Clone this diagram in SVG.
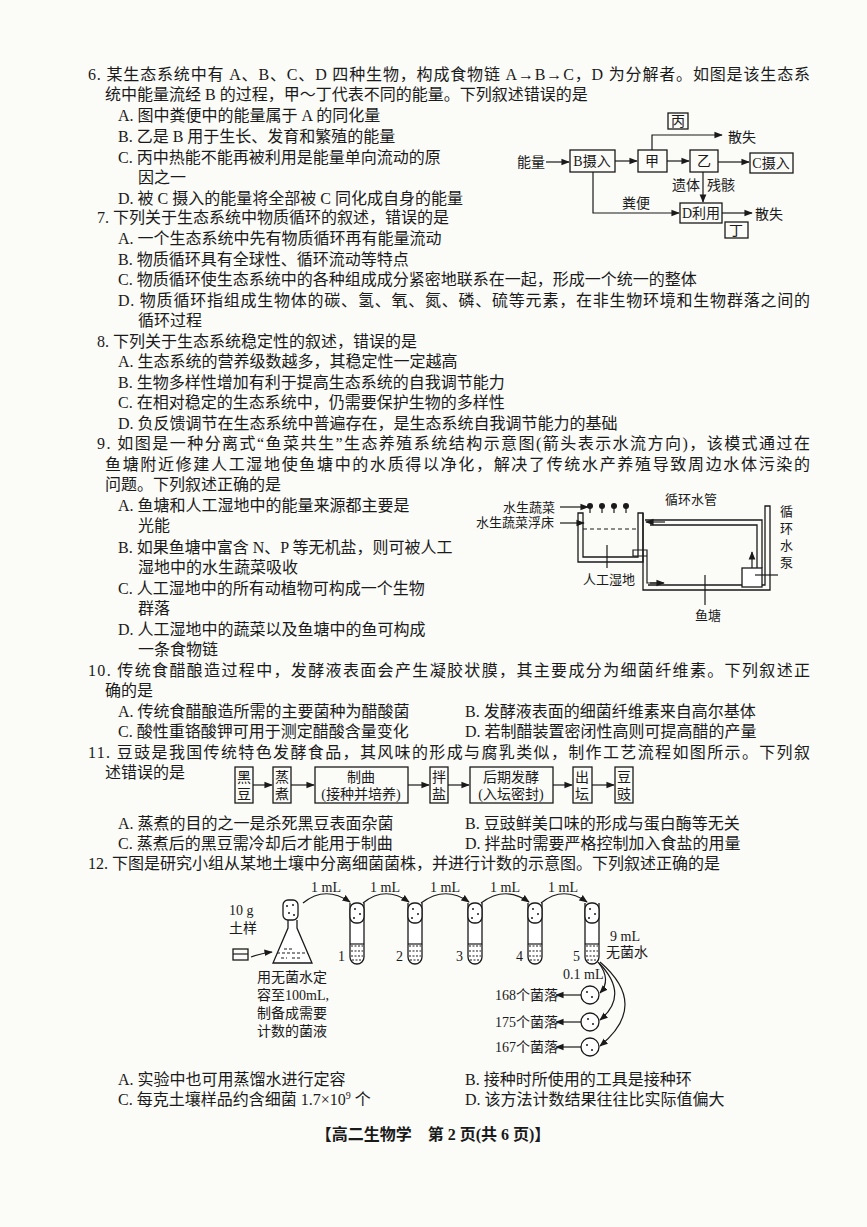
<svg xmlns="http://www.w3.org/2000/svg" width="867" height="1227" viewBox="0 0 867 1227">
<defs>
<style>
text{font-family:"Liberation Serif","Noto Sans CJK SC",serif;font-size:16px;fill:#1a1a1a}
.s{font-size:13px}
.m{font-size:14px}
.b{fill:none;stroke:#1a1a1a;stroke-width:1.3}
.l{fill:none;stroke:#1a1a1a;stroke-width:1.2}
.w{fill:#fff;stroke:#1a1a1a;stroke-width:1.3}
</style>
<marker id="a" viewBox="0 0 10 10" refX="9" refY="5" markerWidth="7" markerHeight="7" orient="auto"><path d="M0,1 L10,5 L0,9 Z" fill="#1a1a1a"/></marker>
</defs>
<rect width="867" height="1227" fill="#fbfbf8"/>
<g id="text">
<text x="88" y="80" textLength="722" lengthAdjust="spacing">6. 某生态系统中有 A、B、C、D 四种生物，构成食物链 A→B→C，D 为分解者。如图是该生态系</text>
<text x="105" y="100">统中能量流经 B 的过程，甲～丁代表不同的能量。下列叙述错误的是</text>
<text x="118" y="121">A. 图中粪便中的能量属于 A 的同化量</text>
<text x="118" y="142">B. 乙是 B 用于生长、发育和繁殖的能量</text>
<text x="118" y="163">C. 丙中热能不能再被利用是能量单向流动的原</text>
<text x="138" y="183">因之一</text>
<text x="118" y="204">D. 被 C 摄入的能量将全部被 C 同化成自身的能量</text>
<text x="97" y="223">7. 下列关于生态系统中物质循环的叙述，错误的是</text>
<text x="118" y="244">A. 一个生态系统中先有物质循环再有能量流动</text>
<text x="118" y="265">B. 物质循环具有全球性、循环流动等特点</text>
<text x="118" y="285">C. 物质循环使生态系统中的各种组成成分紧密地联系在一起，形成一个统一的整体</text>
<text x="118" y="306" textLength="692" lengthAdjust="spacing">D. 物质循环指组成生物体的碳、氢、氧、氮、磷、硫等元素，在非生物环境和生物群落之间的</text>
<text x="138" y="326">循环过程</text>
<text x="97" y="347">8. 下列关于生态系统稳定性的叙述，错误的是</text>
<text x="118" y="367">A. 生态系统的营养级数越多，其稳定性一定越高</text>
<text x="118" y="388">B. 生物多样性增加有利于提高生态系统的自我调节能力</text>
<text x="118" y="408">C. 在相对稳定的生态系统中，仍需要保护生物的多样性</text>
<text x="118" y="429">D. 负反馈调节在生态系统中普遍存在，是生态系统自我调节能力的基础</text>
<text x="97" y="449" textLength="713" lengthAdjust="spacing">9. 如图是一种分离式“鱼菜共生”生态养殖系统结构示意图(箭头表示水流方向)，该模式通过在</text>
<text x="105" y="470" textLength="705" lengthAdjust="spacing">鱼塘附近修建人工湿地使鱼塘中的水质得以净化，解决了传统水产养殖导致周边水体污染的</text>
<text x="105" y="490">问题。下列叙述正确的是</text>
<text x="118" y="511">A. 鱼塘和人工湿地中的能量来源都主要是</text>
<text x="138" y="531">光能</text>
<text x="118" y="553">B. 如果鱼塘中富含 N、P 等无机盐，则可被人工</text>
<text x="138" y="573">湿地中的水生蔬菜吸收</text>
<text x="118" y="594">C. 人工湿地中的所有动植物可构成一个生物</text>
<text x="138" y="614">群落</text>
<text x="118" y="635">D. 人工湿地中的蔬菜以及鱼塘中的鱼可构成</text>
<text x="138" y="655">一条食物链</text>
<text x="88" y="676" textLength="722" lengthAdjust="spacing">10. 传统食醋酿造过程中，发酵液表面会产生凝胶状膜，其主要成分为细菌纤维素。下列叙述正</text>
<text x="105" y="696">确的是</text>
<text x="118" y="717">A. 传统食醋酿造所需的主要菌种为醋酸菌</text>
<text x="465" y="717">B. 发酵液表面的细菌纤维素来自高尔基体</text>
<text x="118" y="737">C. 酸性重铬酸钾可用于测定醋酸含量变化</text>
<text x="465" y="737">D. 若制醋装置密闭性高则可提高醋的产量</text>
<text x="88" y="758" textLength="722" lengthAdjust="spacing">11. 豆豉是我国传统特色发酵食品，其风味的形成与腐乳类似，制作工艺流程如图所示。下列叙</text>
<text x="105" y="778">述错误的是</text>
<text x="118" y="829">A. 蒸煮的目的之一是杀死黑豆表面杂菌</text>
<text x="465" y="829">B. 豆豉鲜美口味的形成与蛋白酶等无关</text>
<text x="118" y="849">C. 蒸煮后的黑豆需冷却后才能用于制曲</text>
<text x="465" y="849">D. 拌盐时需要严格控制加入食盐的用量</text>
<text x="88" y="869">12. 下图是研究小组从某地土壤中分离细菌菌株，并进行计数的示意图。下列叙述正确的是</text>
<text x="118" y="1085">A. 实验中也可用蒸馏水进行定容</text>
<text x="465" y="1085">B. 接种时所使用的工具是接种环</text>
<text x="118" y="1105">C. 每克土壤样品约含细菌 1.7×10<tspan dy="-6" font-size="10">9</tspan><tspan dy="6"> 个</tspan></text>
<text x="465" y="1105">D. 该方法计数结果往往比实际值偏大</text>
<text x="433" y="1140" text-anchor="middle" font-weight="bold">【高二生物学　第 2 页(共 6 页)】</text>
</g>
<g id="q6-diagram">
<text x="517" y="167" class="m">能量</text>
<rect x="570" y="150" width="45" height="22" class="b"/><text x="592" y="166" class="m" text-anchor="middle">B摄入</text>
<rect x="638" y="150" width="29" height="22" class="b"/><text x="652" y="166" class="m" text-anchor="middle">甲</text>
<rect x="690" y="150" width="28" height="22" class="b"/><text x="704" y="166" class="m" text-anchor="middle">乙</text>
<rect x="750" y="153" width="43" height="20" class="b"/><text x="771" y="168" class="m" text-anchor="middle">C摄入</text>
<rect x="668" y="113" width="20" height="16" class="b"/><text x="678" y="126" class="m" text-anchor="middle">丙</text>
<text x="728" y="142" class="m">散失</text>
<rect x="680" y="203" width="42" height="20" class="b"/><text x="701" y="218" class="m" text-anchor="middle">D利用</text>
<rect x="725" y="222" width="23" height="16" class="b"/><text x="736" y="235" class="m" text-anchor="middle">丁</text>
<text x="755" y="219" class="m">散失</text>
<text x="672" y="190" class="m">遗体</text><text x="707" y="190" class="m">残骸</text>
<text x="622" y="208" class="m">粪便</text>
</g>
<g id="q9-diagram">
<text x="503" y="512" class="s">水生蔬菜</text>
<text x="476" y="527" class="s">水生蔬菜浮床</text>
<path d="M578,513 V562 H643 V513 H638 V557 H583 V513 Z" class="b"/>
<line x1="583" y1="529" x2="638" y2="529" stroke="#1a1a1a" stroke-width="1.2" stroke-dasharray="4,3"/>
<g class="l">
<path d="M590,513 v-6 M602,513 v-6 M614,513 v-6 M626,513 v-6"/>
</g>
<g fill="#1a1a1a">
<circle cx="590" cy="506" r="3"/><circle cx="602" cy="506" r="3"/><circle cx="614" cy="506" r="3"/><circle cx="626" cy="506" r="3"/>
</g>
<path d="M643,513 V590 H770 V506 H765 V585 H648" class="b"/>
<path d="M762,568 V520 H645 M757,568 V525 H650" class="b"/>
<rect x="742" y="568" width="20" height="19" class="w"/>
<path d="M633,550 h14 v6 h-14 z M647,553 V583 H662" class="l"/>
<text x="665" y="504" class="s">循环水管</text>
<text x="583" y="584" class="s">人工湿地</text>
<text x="695" y="620" class="s">鱼塘</text>
<text x="780" y="516" class="s">循</text><text x="780" y="533" class="s">环</text><text x="780" y="550" class="s">水</text><text x="780" y="567" class="s">泵</text>
</g>
<g id="q11-flow">
<rect x="235" y="767" width="18" height="36" class="b"/><text x="244" y="782" class="m" text-anchor="middle">黑</text><text x="244" y="799" class="m" text-anchor="middle">豆</text>
<rect x="273" y="767" width="18" height="36" class="b"/><text x="282" y="782" class="m" text-anchor="middle">蒸</text><text x="282" y="799" class="m" text-anchor="middle">煮</text>
<rect x="315" y="767" width="93" height="36" class="b"/><text x="361" y="782" class="m" text-anchor="middle">制曲</text><text x="361" y="799" class="m" text-anchor="middle">(接种并培养)</text>
<rect x="430" y="767" width="18" height="36" class="b"/><text x="439" y="782" class="m" text-anchor="middle">拌</text><text x="439" y="799" class="m" text-anchor="middle">盐</text>
<rect x="470" y="767" width="83" height="36" class="b"/><text x="511" y="782" class="m" text-anchor="middle">后期发酵</text><text x="511" y="799" class="m" text-anchor="middle">(入坛密封)</text>
<rect x="573" y="767" width="19" height="36" class="b"/><text x="582" y="782" class="m" text-anchor="middle">出</text><text x="582" y="799" class="m" text-anchor="middle">坛</text>
<rect x="615" y="767" width="18" height="36" class="b"/><text x="624" y="782" class="m" text-anchor="middle">豆</text><text x="624" y="799" class="m" text-anchor="middle">豉</text>
</g>
<g id="q12-diagram">
<text x="229" y="915" class="m">10 g</text><text x="229" y="933" class="m">土样</text>
<rect x="233" y="949" width="15" height="11" class="b"/><line x1="233" y1="954" x2="248" y2="954" class="l"/>
<path d="M288,920 V928 L273,963 H312 L297,928 V920" class="w"/>
<path d="M277,953 H308 M281,958 h6 M292,958 h8 M284,949 h10" class="l" stroke-dasharray="3,2"/>
<rect x="283" y="900" width="15" height="20" rx="5" class="w"/>
<g fill="#1a1a1a"><circle cx="287" cy="906" r="1"/><circle cx="293" cy="905" r="1"/><circle cx="289" cy="913" r="1"/><circle cx="294" cy="915" r="1"/></g>
<text x="257" y="982" class="m">用无菌水定</text>
<text x="257" y="1000" class="m">容至100mL,</text>
<text x="257" y="1018" class="m">制备成需要</text>
<text x="257" y="1036" class="m">计数的菌液</text>
<g id="tubes">
<g transform="translate(357,0)"><path d="M-7,903 V957 a7,7 0 0 0 14,0 V903" class="w"/><rect x="-7" y="903" width="14" height="20" rx="6" class="w"/><path d="M-6,946 h12 M-6,951 h12 M-6,956 h12 M-5,960 h10" class="l" stroke-dasharray="2,1.5"/><line x1="-7" y1="944" x2="7" y2="944" class="l"/><g fill="#1a1a1a"><circle cx="-2" cy="909" r="1"/><circle cx="3" cy="914" r="1"/><circle cx="-3" cy="918" r="1"/></g></g>
<g transform="translate(415,0)"><path d="M-7,903 V957 a7,7 0 0 0 14,0 V903" class="w"/><rect x="-7" y="903" width="14" height="20" rx="6" class="w"/><path d="M-6,946 h12 M-6,951 h12 M-6,956 h12 M-5,960 h10" class="l" stroke-dasharray="2,1.5"/><line x1="-7" y1="944" x2="7" y2="944" class="l"/><g fill="#1a1a1a"><circle cx="-2" cy="909" r="1"/><circle cx="3" cy="914" r="1"/><circle cx="-3" cy="918" r="1"/></g></g>
<g transform="translate(475,0)"><path d="M-7,903 V957 a7,7 0 0 0 14,0 V903" class="w"/><rect x="-7" y="903" width="14" height="20" rx="6" class="w"/><path d="M-6,946 h12 M-6,951 h12 M-6,956 h12 M-5,960 h10" class="l" stroke-dasharray="2,1.5"/><line x1="-7" y1="944" x2="7" y2="944" class="l"/><g fill="#1a1a1a"><circle cx="-2" cy="909" r="1"/><circle cx="3" cy="914" r="1"/><circle cx="-3" cy="918" r="1"/></g></g>
<g transform="translate(535,0)"><path d="M-7,903 V957 a7,7 0 0 0 14,0 V903" class="w"/><rect x="-7" y="903" width="14" height="20" rx="6" class="w"/><path d="M-6,946 h12 M-6,951 h12 M-6,956 h12 M-5,960 h10" class="l" stroke-dasharray="2,1.5"/><line x1="-7" y1="944" x2="7" y2="944" class="l"/><g fill="#1a1a1a"><circle cx="-2" cy="909" r="1"/><circle cx="3" cy="914" r="1"/><circle cx="-3" cy="918" r="1"/></g></g>
<g transform="translate(592,0)"><path d="M-7,903 V957 a7,7 0 0 0 14,0 V903" class="w"/><rect x="-7" y="903" width="14" height="20" rx="6" class="w"/><path d="M-6,946 h12 M-6,951 h12 M-6,956 h12 M-5,960 h10" class="l" stroke-dasharray="2,1.5"/><line x1="-7" y1="944" x2="7" y2="944" class="l"/><g fill="#1a1a1a"><circle cx="-2" cy="909" r="1"/><circle cx="3" cy="914" r="1"/><circle cx="-3" cy="918" r="1"/></g></g>
</g>
<text x="338" y="961" class="m">1</text><text x="396" y="961" class="m">2</text><text x="456" y="961" class="m">3</text><text x="516" y="961" class="m">4</text><text x="573" y="961" class="m">5</text>
<text x="311" y="892" class="m">1 mL</text><text x="370" y="892" class="m">1 mL</text><text x="430" y="892" class="m">1 mL</text><text x="490" y="892" class="m">1 mL</text><text x="548" y="892" class="m">1 mL</text>
<text x="610" y="941" class="m">9 mL</text><text x="606" y="957" class="m">无菌水</text>
<text x="563" y="979" class="m">0.1 mL</text>
<circle cx="590" cy="995" r="9" class="w"/><circle cx="590" cy="1022" r="9" class="w"/><circle cx="590" cy="1047" r="9" class="w"/>
<g fill="#1a1a1a"><circle cx="587" cy="992" r="1"/><circle cx="592" cy="997" r="1"/><circle cx="588" cy="1019" r="1"/><circle cx="593" cy="1024" r="1"/><circle cx="587" cy="1045" r="1"/><circle cx="592" cy="1050" r="1"/></g>
<text x="495" y="1000" class="m">168个菌落</text>
<text x="495" y="1027" class="m">175个菌落</text>
<text x="495" y="1052" class="m">167个菌落</text>
</g>
<g id="connectors" class="l" marker-end="url(#a)">
<line x1="546" y1="162" x2="569" y2="162"/>
<line x1="615" y1="161" x2="637" y2="161"/>
<line x1="667" y1="161" x2="689" y2="161"/>
<line x1="718" y1="162" x2="749" y2="162"/>
<path d="M652,150 V135 H722"/>
<line x1="703" y1="172" x2="703" y2="202"/>
<path d="M593,172 V213 H679"/>
<line x1="722" y1="213" x2="752" y2="213"/>
<line x1="560" y1="507" x2="588" y2="507"/>
<line x1="560" y1="523" x2="584" y2="523"/>
<line x1="665" y1="522" x2="646" y2="522"/>
<line x1="752" y1="568" x2="752" y2="552"/>
<line x1="650" y1="583" x2="664" y2="583"/>
<line x1="607" y1="545" x2="607" y2="568" marker-end="none"/>
<line x1="705" y1="575" x2="705" y2="605" marker-end="none"/>
<line x1="755" y1="575" x2="778" y2="575" marker-end="none"/>
<line x1="253" y1="785" x2="272" y2="785"/>
<line x1="291" y1="785" x2="314" y2="785"/>
<line x1="408" y1="785" x2="429" y2="785"/>
<line x1="448" y1="785" x2="469" y2="785"/>
<line x1="553" y1="785" x2="572" y2="785"/>
<line x1="592" y1="785" x2="614" y2="785"/>
<path d="M251,957 Q262,953 272,952"/>
<path d="M303,903 Q325,885 350,902"/>
<path d="M363,903 Q385,885 409,902"/>
<path d="M421,903 Q445,885 469,902"/>
<path d="M481,903 Q505,885 529,902"/>
<path d="M541,903 Q563,885 587,902"/>
<path d="M598,962 Q612,980 600,993"/>
<path d="M599,963 Q630,995 600,1020"/>
<path d="M600,962 Q650,1005 600,1046"/>
<line x1="581" y1="995" x2="556" y2="995"/>
<line x1="581" y1="1022" x2="556" y2="1022"/>
<line x1="581" y1="1047" x2="556" y2="1047"/>
</g>
</svg>
